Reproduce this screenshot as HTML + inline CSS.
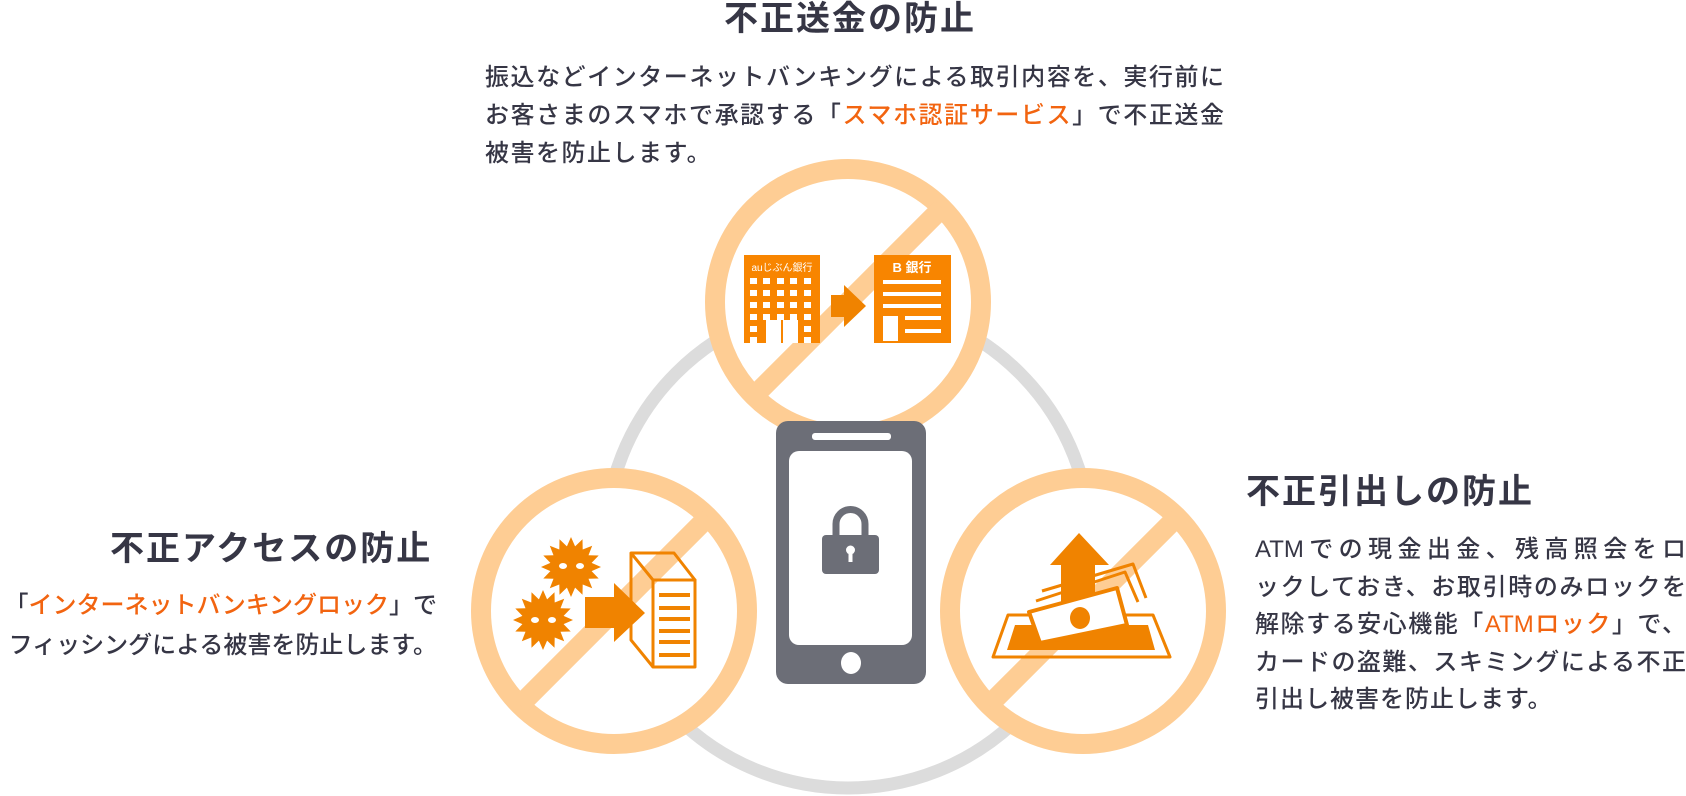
<!DOCTYPE html>
<html><head><meta charset="utf-8">
<style>
html,body{margin:0;padding:0;background:#fff;}
body{width:1686px;height:796px;position:relative;overflow:hidden;font-family:"Liberation Sans","Noto Sans CJK JP",sans-serif;color:#363645;}
svg{position:absolute;left:0;top:0;}
.t{position:absolute;font-size:34px;font-weight:bold;letter-spacing:2px;line-height:40px;white-space:nowrap;}
.b{position:absolute;font-size:24px;font-weight:500;white-space:nowrap;}
.o{color:#f26410;}
.j{display:block;text-align:justify;text-align-last:justify;white-space:nowrap;}
</style></head><body>
<svg width="1686" height="796" viewBox="0 0 1686 796">
<circle cx="848" cy="545" r="243" fill="none" stroke="#dcdcdc" stroke-width="13"/>
<g>
<clipPath id="c1"><circle cx="848" cy="302" r="133"/></clipPath>
<circle cx="848" cy="302" r="133" fill="#fff" stroke="#fecd94" stroke-width="20"/>
<line x1="960" y1="190" x2="736" y2="414" stroke="#fecd94" stroke-width="20" clip-path="url(#c1)"/>
<clipPath id="c2"><circle cx="614" cy="611" r="133"/></clipPath>
<circle cx="614" cy="611" r="133" fill="#fff" stroke="#fecd94" stroke-width="20"/>
<line x1="726" y1="499" x2="502" y2="723" stroke="#fecd94" stroke-width="20" clip-path="url(#c2)"/>
<circle cx="1083" cy="611" r="133" fill="#fff" stroke="#fecd94" stroke-width="20"/>
<clipPath id="c3"><circle cx="1083" cy="611" r="133"/></clipPath>
<line x1="1195" y1="499" x2="971" y2="723" stroke="#fecd94" stroke-width="20" clip-path="url(#c3)"/>
</g>
<!-- top icons -->
<rect x="744" y="255" width="76" height="88" fill="#f88500"/>
<text x="782" y="271" font-size="10" fill="#fff" text-anchor="middle" font-family="Liberation Sans,Noto Sans CJK JP,sans-serif">auじぶん銀行</text>
<g fill="#fff" id="win"></g>
<rect x="766" y="320" width="15" height="23" fill="#fff"/><rect x="783" y="320" width="15" height="23" fill="#fff"/>
<polygon points="831,295 844,295 844,285 866,306 844,327 844,317 831,317" fill="#f08300"/>
<rect x="874" y="255" width="77" height="88" fill="#f88500"/>
<text x="912" y="272" font-size="13" font-weight="bold" fill="#fff" text-anchor="middle" font-family="Liberation Sans,Noto Sans CJK JP,sans-serif">B 銀行</text>
<g fill="#fff"><rect x="883" y="280" width="58" height="4"/><rect x="883" y="292" width="58" height="4"/><rect x="883" y="304" width="58" height="4"/><rect x="905" y="316" width="36" height="4"/><rect x="905" y="329" width="36" height="4"/><rect x="883" y="316" width="15" height="25"/></g>
<!-- phone -->
<rect x="776" y="421" width="150" height="263" rx="12" fill="#6c6e77"/>
<rect x="789" y="451" width="123" height="194" rx="10" fill="#fff"/>
<rect x="812" y="433" width="79" height="7" rx="3" fill="#fff"/>
<ellipse cx="851" cy="663" rx="10" ry="11" fill="#fff"/>
<path d="M836 537 V524 a14.5 14.5 0 0 1 29 0 V537" fill="none" stroke="#6c6e77" stroke-width="7"/>
<rect x="822" y="535" width="57" height="39" rx="4" fill="#6c6e77"/>
<circle cx="850.5" cy="550" r="4.5" fill="#fff"/><rect x="848.5" y="550" width="4" height="12" fill="#fff"/>
<!-- left icons -->
<polygon id="v1" fill="#f08300" points=""/>
<polygon id="v2" fill="#f08300" points=""/>
<circle cx="571" cy="567" r="21" fill="#f08300"/><circle cx="543" cy="620" r="21" fill="#f08300"/>
<g fill="#fff"><ellipse cx="563" cy="566" rx="4" ry="3"/><ellipse cx="580" cy="566" rx="4" ry="3"/><ellipse cx="535" cy="620" rx="4" ry="3"/><ellipse cx="552" cy="620" rx="4" ry="3"/></g>
<polygon points="585,597 614,597 614,583 645,613 614,642 614,628 585,628" fill="#f08300"/>
<g fill="none" stroke="#f08300" stroke-width="3" stroke-linejoin="round">
<polygon points="631,553 674,553 695,580 653,580"/>
<rect x="653" y="580" width="42" height="87"/>
<polyline points="631,553 631,640 653,667"/>
</g>
<g fill="#f08300"><rect x="659" y="593" width="31" height="4"/><rect x="659" y="606" width="31" height="4"/><rect x="659" y="617" width="31" height="4"/><rect x="659" y="629" width="31" height="4"/><rect x="659" y="640" width="31" height="4"/><rect x="659" y="653" width="31" height="4"/></g>
<!-- right icons -->
<g fill="none" stroke="#f08300" stroke-width="3" stroke-linejoin="round">
<polyline points="1036,601 1125,572 1138,602"/>
<polyline points="1042,591 1133,564 1146,598"/>
<polygon points="993,657 1008,615 1153,615 1170,657"/>
</g>
<polygon points="1079,533 1109,565 1095,565 1095,602 1061,602 1061,565 1050,565" fill="#f08300"/>
<polygon points="1007,650 1015,625 1148,625 1155,650" fill="#f08300"/>
<polygon points="1029,612 1117,588 1127,625 1040,643" fill="#fff" stroke="#f08300" stroke-width="4" stroke-linejoin="round"/>
<ellipse cx="1080" cy="618" rx="10" ry="11" fill="#f08300"/>
</svg>
<script>
(function(){
var g=document.getElementById('win'),s='';
var xs=[748,761,775,788,802],ys=[278,290,302,314,326,337];
for(var r=0;r<6;r++)for(var c=0;c<5;c++){if(r>=4&&c>=1&&c<=3)continue;s+='<rect x="'+(xs[c]+2)+'" y="'+ys[r]+'" width="7" height="6"/>';}
g.innerHTML=s;
function star(id,cx,cy,R,r,n){var p=[];for(var i=0;i<2*n;i++){var a=Math.PI*i/n,rr=i%2?r:R;p.push((cx+rr*Math.sin(a)).toFixed(1)+','+(cy-rr*Math.cos(a)).toFixed(1));}document.getElementById(id).setAttribute('points',p.join(' '));}
star('v1',571,567,30,21,16);star('v2',543,620,30,21,16);
})();
</script>
<div class="t" style="left:724px;top:-1px;">不正送金の防止</div>
<div class="b" style="left:485px;top:59px;line-height:38px;">
<span class="j" style="width:739px;">振込などインターネットバンキングによる取引内容を、実行前に</span>
<span class="j" style="width:739px;">お客さまのスマホで承認する「<span class="o">スマホ認証サービス</span>」で不正送金</span>
<span style="display:block;letter-spacing:1.5px;">被害を防止します。</span>
</div>
<div class="t" style="left:110px;top:529px;">不正アクセスの防止</div>
<div class="b" style="right:1249px;top:586px;line-height:40px;text-align:right;">
「<span class="o">インターネットバンキングロック</span>」で<br>フィッシングによる被害を防止します。
</div>
<div class="t" style="left:1246px;top:472px;">不正引出しの防止</div>
<div class="b" style="left:1255px;top:531px;line-height:37.5px;">
<span class="j" style="width:431px;">ATMでの現金出金、残高照会をロ</span>
<span class="j" style="width:431px;">ックしておき、お取引時のみロックを</span>
<span class="j" style="width:431px;">解除する安心機能「<span class="o">ATMロック</span>」で、</span>
<span class="j" style="width:431px;">カードの盗難、スキミングによる不正</span>
<span style="display:block;letter-spacing:1px;">引出し被害を防止します。</span>
</div>
</body></html>
